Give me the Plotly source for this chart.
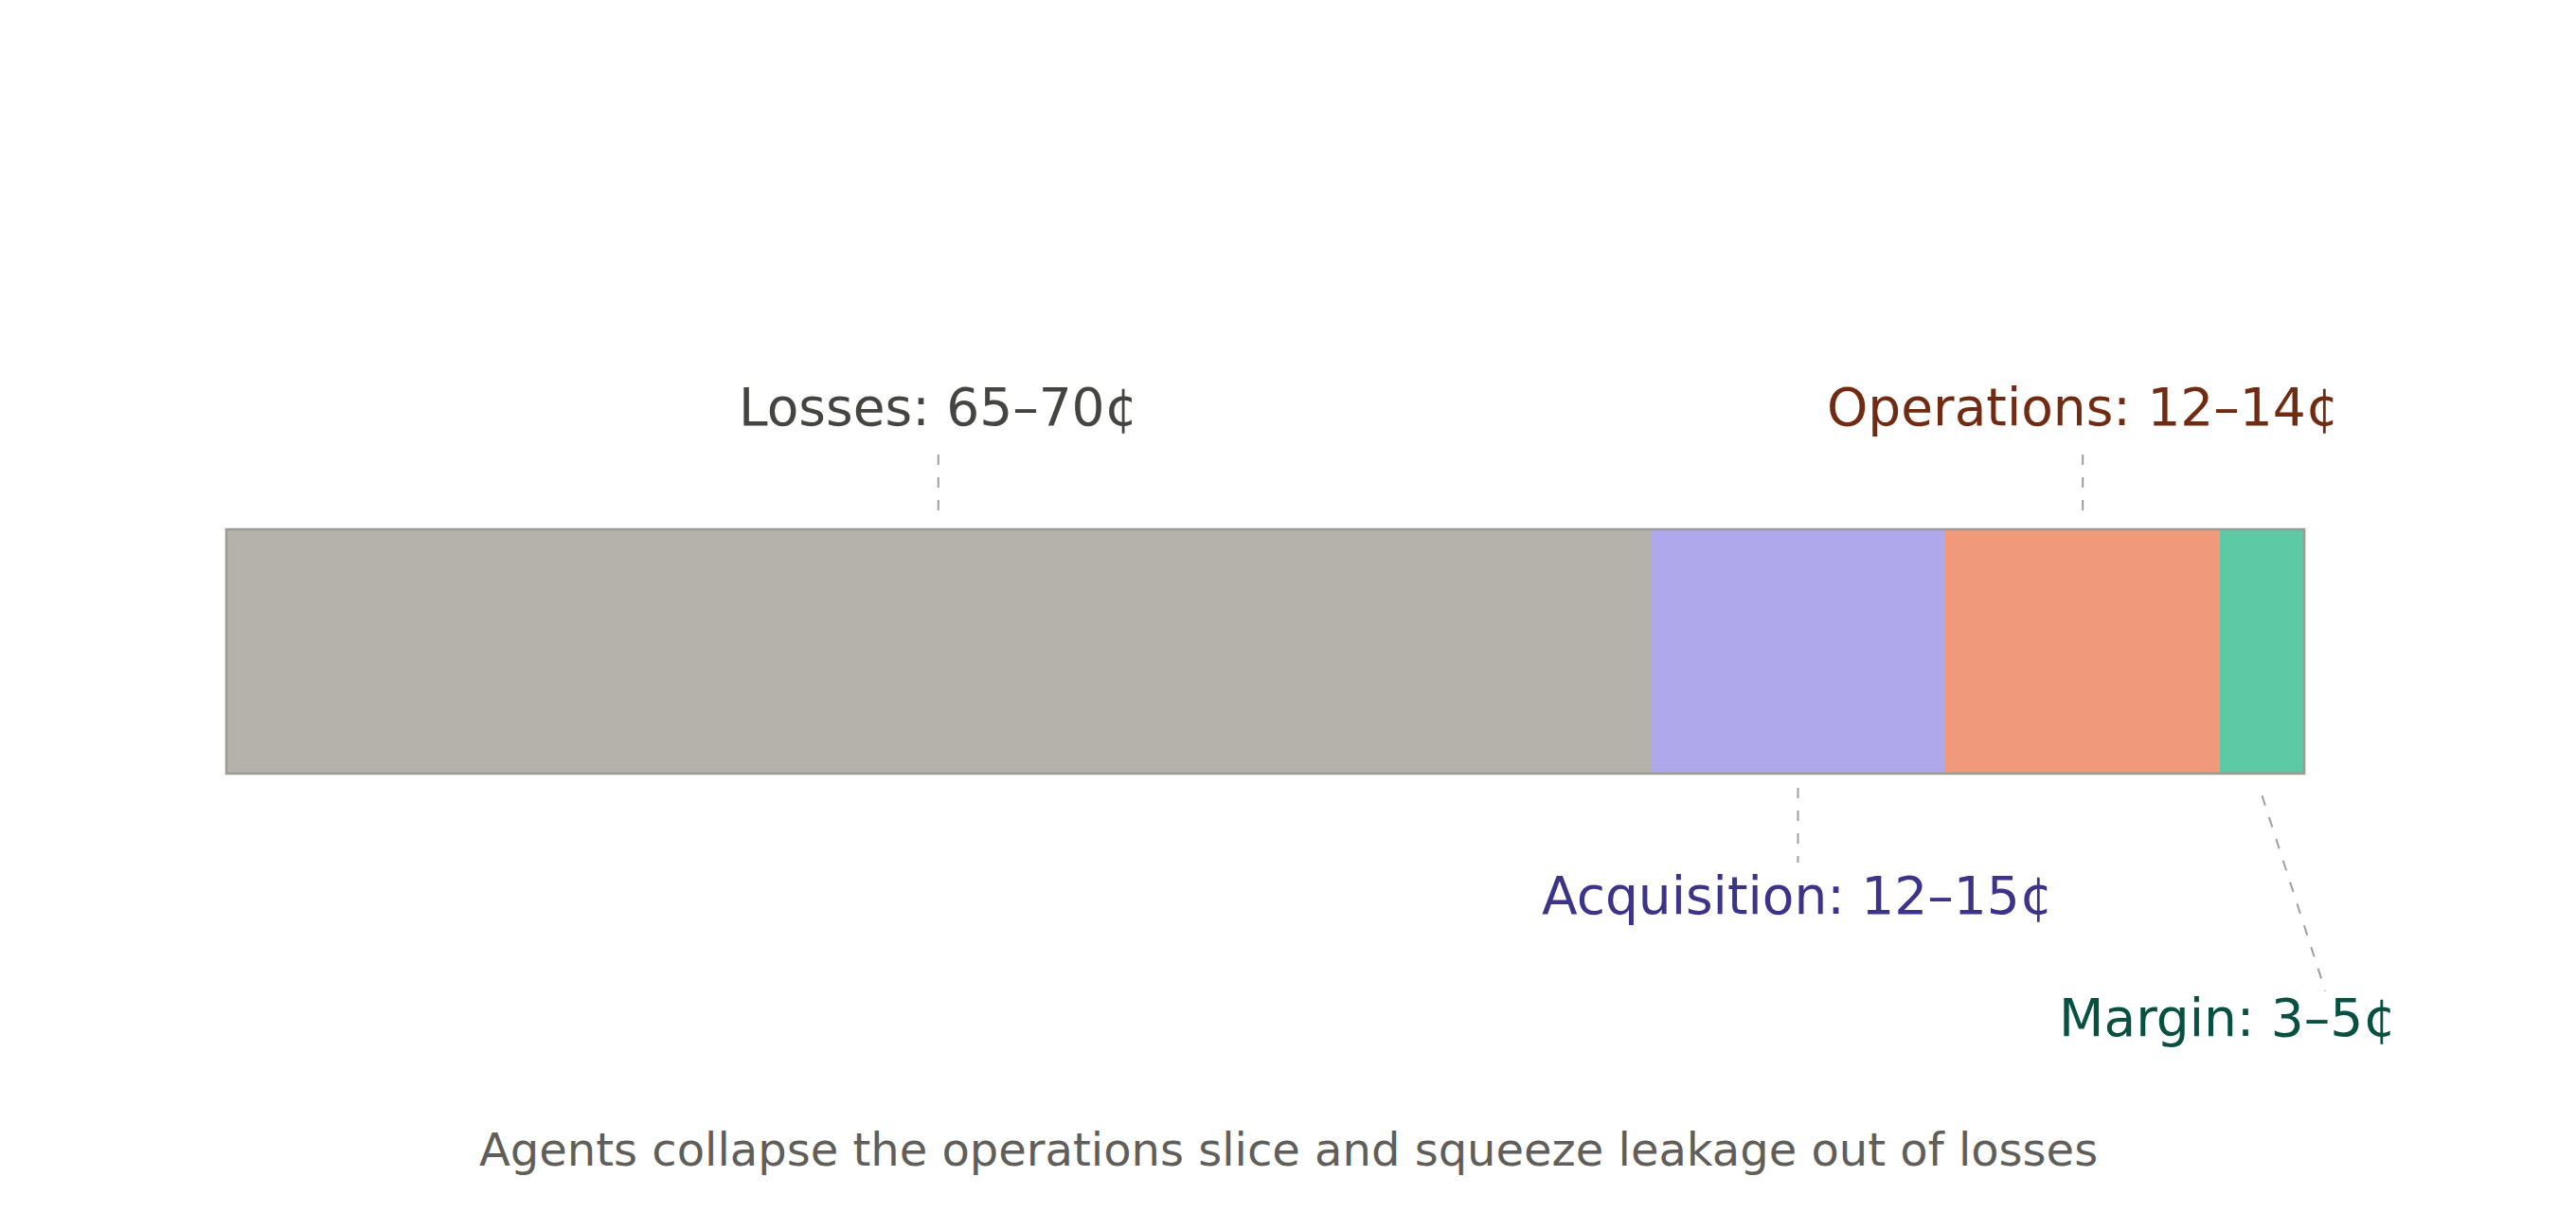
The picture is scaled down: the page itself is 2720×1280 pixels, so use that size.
import plotly.graph_objects as go

# Where each cent of premium goes (bar widths)
categories = ["Losses", "Acquisition", "Operations", "Margin"]
values = [67.5, 14.0, 13.0, 4.0]
labels = ["Losses: 65–70¢", "Acquisition: 12–15¢", "Operations: 12–14¢", "Margin: 3–5¢"]
fill_colors = ["#b4b2a9", "#afa9ec", "#f0997b", "#5dcaa5"]
text_colors = ["#444441", "#3c3489", "#712b13", "#085041"]
label_side = ["above", "below", "above", "below"]

footer = "Agents collapse the operations slice and squeeze leakage out of losses"

FONT = "DejaVu Sans"
LEADER = "#a09e97"

fig = go.Figure()

starts = []
running = 0.0
for cat, val, col in zip(categories, values, fill_colors):
    starts.append(running)
    running += val
    fig.add_trace(go.Bar(
        x=[val], y=[0], orientation="h", name=cat,
        marker=dict(color=col, line=dict(width=0)),
        width=1, hoverinfo="skip", showlegend=False,
    ))
total = running

# outline round the whole bar
fig.add_shape(type="rect", x0=0, x1=total, y0=-0.5, y1=0.5,
              line=dict(color="#9c9a93", width=2.5), layer="above")

for i, (start, val) in enumerate(zip(starts, values)):
    mid = start + val / 2
    if categories[i] == "Margin":
        # slanted leader out to the label below-right
        fig.add_shape(type="line", x0=mid, x1=mid + 3.0, y0=-0.59, y1=-1.39,
                      line=dict(color=LEADER, width=2, dash="11px,13px"))
        fig.add_annotation(x=mid, y=-1.50, text=labels[i], showarrow=False,
                           xshift=-37, font=dict(family=FONT, size=55, color=text_colors[i]))
    elif label_side[i] == "above":
        fig.add_shape(type="line", x0=mid, x1=mid, y0=0.578, y1=0.806,
                      line=dict(color=LEADER, width=2, dash="11px,13px"))
        fig.add_annotation(x=mid, y=1.0, text=labels[i], showarrow=False,
                           font=dict(family=FONT, size=55, color=text_colors[i]))
    else:
        fig.add_shape(type="line", x0=mid, x1=mid, y0=-0.558, y1=-0.864,
                      line=dict(color=LEADER, width=2, dash="11px,13px"))
        fig.add_annotation(x=mid, y=-1.0, text=labels[i], showarrow=False,
                           font=dict(family=FONT, size=55, color=text_colors[i]))

fig.add_annotation(x=0.5, xref="paper", xshift=-8, y=-2.04, text=footer, showarrow=False,
                   font=dict(family=FONT, size=48, color="#5f5e5a"))

# ranges allow for the 8px page margin round the plot div
fig.update_layout(
    width=2720, height=1280,
    barmode="stack",
    margin=dict(l=0, r=0, t=0, b=0),
    paper_bgcolor="white", plot_bgcolor="white",
    xaxis=dict(range=[-10.37, 111.74], visible=False, fixedrange=True),
    yaxis=dict(range=[-2.3256, 2.636], visible=False, fixedrange=True),
)

fig.write_html("out.html")
